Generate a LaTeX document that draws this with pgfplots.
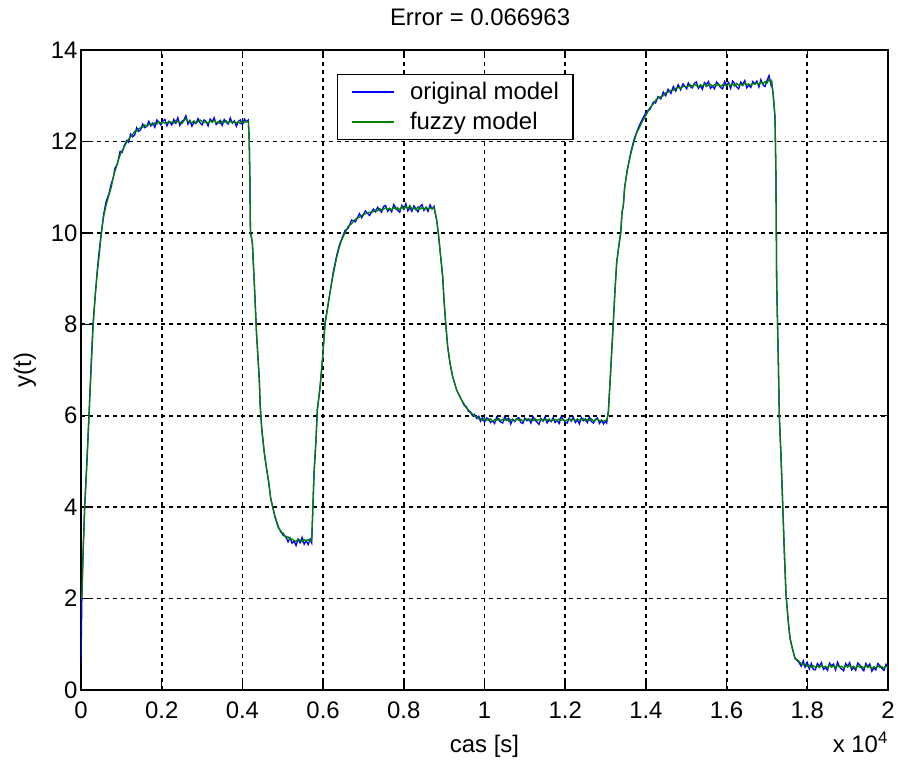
\documentclass[border=0pt]{standalone}
\usepackage{fontspec}
\setmainfont{Liberation Sans}
\usepackage{pgfplots}
\usepackage{pgfplotstable}
\pgfplotsset{compat=1.18}
\definecolor{mblue}{rgb}{0,0,1}
\definecolor{mgreen}{rgb}{0,0.5,0}
\newcommand\fsz{\fontsize{24}{29}\selectfont}
\pgfplotstableread{
t o f
0 0.6 2.0
25 2.2 2.1
50 3.0 2.9
91 4.0 4.0
150 5.1 5.0
198 6.0 6.0
250 7.1 7.0
297 8.0 7.9
350 8.6 8.6
400 9.15 9.1
450 9.6 9.5
504 10.0 10.0
560 10.4 10.35
620 10.68 10.6
690 10.85 10.82
751 11.08 11.0
800 11.2 11.22
843 11.42 11.35
900 11.5 11.52
967 11.78 11.7
1020 11.76 11.8
1070 11.9 11.88
1132 12.02 11.98
1180 11.98 12.05
1230 12.16 12.1
1280 12.1 12.15
1330 12.14 12.22
1380 12.3 12.22
1430 12.22 12.28
1480 12.26 12.3
1530 12.38 12.31
1580 12.3 12.36
1630 12.33 12.33
1680 12.44 12.37
1730 12.34 12.39
1780 12.4 12.36
1830 12.31 12.41
1880 12.47 12.38
1930 12.42 12.43
1980 12.36 12.4
2030 12.45 12.42
2080 12.48 12.4
2130 12.34 12.41
2180 12.44 12.43
2250 12.36 12.42
2300 12.48 12.4
2350 12.4 12.45
2400 12.52 12.43
2450 12.35 12.42
2500 12.44 12.39
2550 12.47 12.45
2600 12.56 12.5
2650 12.38 12.44
2700 12.46 12.43
2750 12.33 12.41
2800 12.42 12.45
2850 12.39 12.4
2900 12.5 12.43
2950 12.41 12.47
3000 12.36 12.44
3050 12.47 12.41
3100 12.44 12.43
3150 12.34 12.4
3200 12.49 12.45
3250 12.43 12.42
3300 12.52 12.46
3350 12.37 12.41
3400 12.41 12.43
3450 12.46 12.39
3500 12.35 12.44
3550 12.48 12.42
3600 12.42 12.45
3650 12.38 12.4
3700 12.51 12.44
3750 12.4 12.41
3800 12.45 12.43
3850 12.33 12.4
3900 12.44 12.43
3950 12.47 12.39
4000 12.36 12.44
4050 12.49 12.42
4100 12.43 12.43
4147 12.47 12.44
4170 12.0 12.0
4185 11.2 11.2
4200 10.0 10.0
4246 9.8 9.8
4300 8.8 8.8
4350 7.8 7.8
4419 6.8 6.78
4440 6.23 6.25
4480 5.72 5.7
4540 5.21 5.2
4590 4.89 4.9
4650 4.56 4.55
4700 4.2 4.2
4751 4.0 4.0
4808 3.78 3.8
4890 3.55 3.58
4950 3.48 3.45
5014 3.38 3.43
5080 3.36 3.33
5130 3.24 3.35
5180 3.33 3.3
5230 3.21 3.3
5280 3.26 3.27
5330 3.16 3.25
5380 3.3 3.3
5430 3.22 3.28
5480 3.34 3.24
5530 3.19 3.29
5580 3.27 3.26
5630 3.18 3.29
5680 3.3 3.25
5717 3.22 3.28
5742 3.87 3.87
5775 4.74 4.74
5824 5.47 5.47
5857 6.13 6.13
5923 6.62 6.6
5990 7.29 7.29
6047 8.02 8.0
6100 8.3 8.3
6154 8.6 8.6
6200 8.85 8.85
6253 9.15 9.1
6336 9.5 9.46
6400 9.72 9.68
6460 9.86 9.84
6543 10.05 10.0
6620 10.1 10.14
6708 10.28 10.2
6800 10.24 10.3
6900 10.42 10.34
6956 10.33 10.38
7050 10.48 10.42
7150 10.38 10.45
7245 10.52 10.46
7300 10.46 10.5
7350 10.56 10.48
7400 10.5 10.53
7450 10.45 10.5
7500 10.58 10.52
7550 10.6 10.55
7600 10.47 10.51
7650 10.53 10.54
7700 10.46 10.5
7750 10.62 10.56
7800 10.55 10.52
7850 10.49 10.55
7900 10.45 10.5
7950 10.6 10.57
8000 10.52 10.52
8050 10.64 10.58
8100 10.48 10.53
8150 10.55 10.6
8200 10.47 10.52
8250 10.59 10.55
8300 10.53 10.5
8350 10.46 10.57
8400 10.57 10.52
8450 10.62 10.55
8500 10.49 10.51
8550 10.56 10.56
8600 10.47 10.52
8650 10.61 10.55
8700 10.52 10.53
8750 10.58 10.55
8773 10.45 10.46
8815 10.28 10.28
8856 9.99 9.99
8914 9.48 9.48
8964 9.04 9.04
8996 8.53 8.53
9038 8.02 8.02
9087 7.51 7.51
9145 7.15 7.15
9212 6.85 6.85
9311 6.56 6.56
9435 6.34 6.34
9500 6.22 6.25
9550 6.2 6.17
9600 6.1 6.13
9650 6.09 6.06
9700 6.0 6.04
9750 6.03 5.99
9807 5.94 5.99
9860 5.99 5.93
9900 5.88 5.94
9950 5.96 5.9
10000 5.86 5.93
10054 5.95 5.91
10100 5.93 5.9
10150 5.85 5.93
10200 5.89 5.88
10250 5.83 5.91
10300 5.97 5.9
10350 5.91 5.94
10400 5.86 5.89
10450 5.84 5.92
10500 5.98 5.9
10550 5.9 5.93
10600 5.95 5.88
10650 5.82 5.91
10700 5.92 5.92
10750 5.87 5.89
10800 5.94 5.93
10850 5.96 5.9
10900 5.85 5.92
10950 5.83 5.88
11000 5.95 5.91
11050 5.89 5.93
11100 5.93 5.9
11150 5.84 5.92
11200 5.98 5.89
11250 5.9 5.94
11300 5.86 5.9
11350 5.81 5.91
11400 5.94 5.93
11450 5.88 5.89
11500 5.97 5.92
11550 5.84 5.9
11600 5.91 5.93
11650 5.87 5.88
11700 5.96 5.91
11750 5.85 5.92
11800 5.9 5.89
11850 5.83 5.93
11900 5.98 5.9
11950 5.92 5.92
12000 5.86 5.88
12050 5.84 5.91
12100 5.95 5.93
12150 5.88 5.9
12200 5.97 5.92
12250 5.85 5.89
12300 5.91 5.93
12350 5.82 5.9
12400 5.96 5.91
12450 5.89 5.94
12500 5.93 5.89
12550 5.85 5.92
12600 5.97 5.9
12650 5.87 5.93
12700 5.84 5.88
12750 5.92 5.91
12800 5.95 5.92
12850 5.83 5.89
12900 5.9 5.9
12950 5.82 5.88
13000 5.88 5.9
13028 5.84 5.9
13069 6.1 6.05
13110 6.71 6.71
13152 7.4 7.4
13193 8.05 8.05
13234 8.75 8.75
13276 9.35 9.35
13342 9.8 9.8
13376 10.0 10.0
13408 10.45 10.45
13441 10.6 10.6
13474 11.0 11.0
13540 11.38 11.38
13623 11.75 11.72
13705 12.04 12.0
13770 12.2 12.18
13837 12.35 12.3
13920 12.5 12.45
14019 12.66 12.6
14100 12.7 12.74
14184 12.86 12.82
14240 12.84 12.9
14300 12.98 12.95
14370 12.93 12.98
14432 13.08 13.0
14490 13.0 13.06
14550 13.14 13.08
14620 13.05 13.12
14680 13.2 13.12
14740 13.1 13.16
14800 13.24 13.18
14860 13.13 13.16
14920 13.26 13.2
15011 13.15 13.2
15050 13.28 13.21
15100 13.2 13.24
15150 13.17 13.2
15200 13.27 13.25
15250 13.3 13.22
15300 13.16 13.19
15350 13.22 13.24
15400 13.14 13.21
15450 13.29 13.26
15500 13.24 13.2
15550 13.31 13.23
15600 13.16 13.25
15650 13.21 13.21
15700 13.15 13.24
15750 13.3 13.22
15800 13.25 13.26
15850 13.18 13.2
15900 13.15 13.24
15950 13.31 13.23
16000 13.22 13.21
16050 13.29 13.26
16100 13.16 13.22
16150 13.32 13.25
16200 13.26 13.21
16250 13.19 13.27
16300 13.15 13.23
16350 13.3 13.25
16400 13.24 13.22
16450 13.33 13.28
16500 13.17 13.24
16550 13.23 13.26
16600 13.18 13.22
16650 13.31 13.27
16700 13.26 13.25
16750 13.32 13.29
16800 13.19 13.24
16850 13.35 13.3
16900 13.24 13.26
16950 13.2 13.31
17000 13.33 13.27
17050 13.44 13.36
17100 13.24 13.28
17117 13.3 13.3
17158 12.98 13.0
17200 12.5 12.55
17224 11.16 11.16
17241 8.9 8.9
17282 7.19 7.19
17307 5.98 5.98
17348 5.11 5.11
17390 4.07 4.07
17430 3.04 3.04
17472 2.09 2.09
17530 1.48 1.48
17571 1.13 1.14
17638 0.88 0.88
17695 0.69 0.7
17778 0.62 0.64
17850 0.52 0.58
17900 0.64 0.55
17943 0.5 0.57
18000 0.6 0.52
18050 0.46 0.54
18100 0.58 0.5
18149 0.45 0.53
18200 0.44 0.5
18250 0.58 0.53
18300 0.52 0.49
18350 0.6 0.54
18400 0.45 0.5
18450 0.49 0.52
18500 0.43 0.48
18550 0.59 0.55
18600 0.53 0.5
18650 0.57 0.53
18700 0.44 0.49
18750 0.61 0.54
18800 0.5 0.5
18850 0.46 0.52
18900 0.42 0.48
18950 0.58 0.53
19000 0.52 0.5
19050 0.6 0.54
19100 0.44 0.49
19150 0.5 0.52
19200 0.43 0.47
19250 0.59 0.53
19300 0.55 0.5
19350 0.47 0.52
19400 0.42 0.48
19450 0.58 0.54
19500 0.51 0.49
19550 0.57 0.52
19600 0.41 0.47
19650 0.48 0.51
19700 0.44 0.48
19750 0.58 0.53
19800 0.53 0.49
19850 0.47 0.51
19900 0.43 0.48
19950 0.56 0.52
20000 0.48 0.5
}\datatable
\begin{document}
\begin{tikzpicture}
\path[use as bounding box] (-81bp,-73bp) rectangle (817bp,690bp);
\begin{axis}[
  name=ax,
  at={(0,0)}, anchor=south west,
  scale only axis, width=807bp, height=640bp,
  xmin=0, xmax=20000, ymin=0, ymax=14,
  xtick={0,2000,...,20000},
  xticklabels={0,0.2,0.4,0.6,0.8,1,1.2,1.4,1.6,1.8,2},
  scaled x ticks=false,
  ytick={0,2,...,14},
  /pgf/number format/assume math mode=true,
  grid=major,
  major grid style={black, line width=1.8bp, dash pattern=on 4bp off 4bp},
  axis line style={black, line width=2bp},
  tick style={black, line width=1.5bp},
  tick align=inside, major tick length=8bp,
  tick label style={font=\fsz},
  xticklabel style={anchor=base, yshift=-28bp},
  label style={font=\fsz},
  xlabel={cas [s]},
  xlabel style={at={(axis description cs:0.5,-0.0969)}, anchor=base},
  ylabel={y(t)},
  ylabel style={at={(axis description cs:-0.0694,0.5)}, anchor=center},
  title={Error = 0.066963},
  title style={at={(axis description cs:0.4945,1.0297)}, anchor=base, font=\fsz},
  legend cell align=left,
  legend image code/.code={\draw[#1, line width=1.4bp] (0bp,0bp) -- (42bp,0bp);},
  legend style={at={(axis description cs:0.3172,0.9625)}, anchor=north west,
    draw=black, line width=1.3bp, fill=white, font=\fsz,
    inner xsep=14bp, inner ysep=8bp, row sep=11bp,
    nodes={inner sep=0pt},
    /tikz/every odd column/.append style={column sep=15bp}},
]
\addplot[mblue, line width=1.3bp] table[x=t, y=o] {\datatable};
\addlegendentry{original model\hspace{9bp}}
\addplot[mgreen, line width=1.3bp] table[x=t, y=f] {\datatable};
\addlegendentry{fuzzy model}
\end{axis}
\node[anchor=base east, font=\fsz, inner sep=0pt] at ([yshift=-62bp]ax.south east) {x 10\textsuperscript{4}};
\end{tikzpicture}
\end{document}
